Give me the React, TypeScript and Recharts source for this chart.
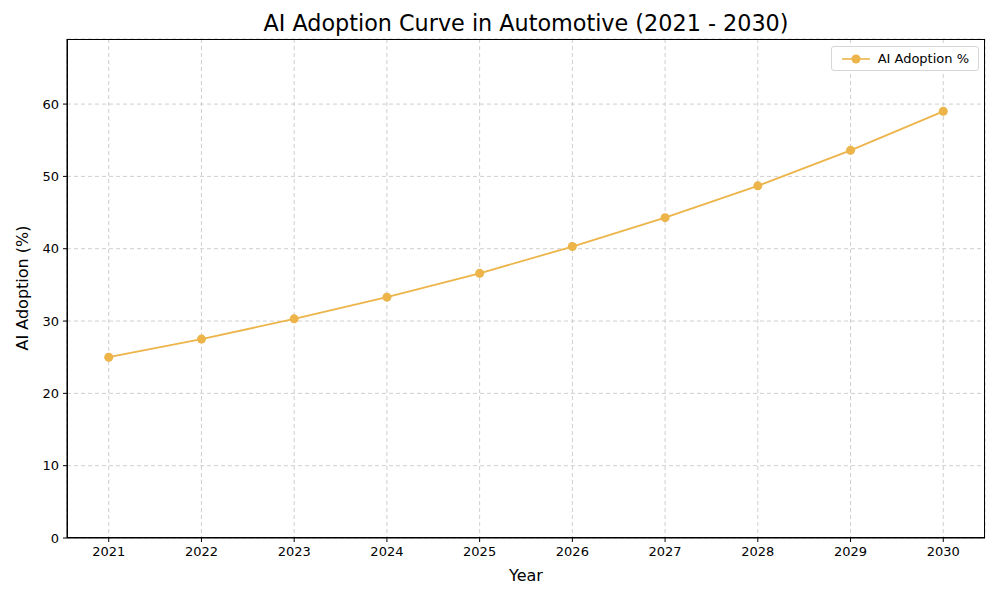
import { LineChart, Line, XAxis, YAxis, CartesianGrid } from "recharts"

const years = [2021, 2022, 2023, 2024, 2025, 2026, 2027, 2028, 2029, 2030]
const adoption = [25.0, 27.5, 30.3, 33.3, 36.6, 40.3, 44.3, 48.7, 53.6, 59.0]
const yTicks = [0, 10, 20, 30, 40, 50, 60]

const data = years.map((year, i) => ({ year, adoption: adoption[i] }))

const COLOR = "#ecb449"
const FONT = "DejaVu Sans, sans-serif"

// plot area box (matches chart margins below)
const PLOT = { left: 67, top: 39, width: 918, height: 499 }

function LegendBox() {
  return (
    <div
      style={{
        position: "absolute",
        top: 46,
        right: 21,
        display: "flex",
        alignItems: "center",
        border: "1px solid #d6d6d6",
        borderRadius: 3,
        background: "#fff",
        padding: "4px 9px 4px 10px",
        fontSize: 13,
        color: "#000",
      }}
    >
      <svg width={28} height={12} style={{ marginRight: 8 }}>
        <line x1={0} y1={6} x2={28} y2={6} stroke={COLOR} strokeWidth={1.6} />
        <circle cx={14} cy={6} r={4.5} fill={COLOR} />
      </svg>
      AI Adoption %
    </div>
  )
}

export default function App() {
  return (
    <div style={{ position: "absolute", left: 0, top: 0, width: 1000, height: 600, background: "#fff", fontFamily: FONT }}>
      <div style={{ position: "absolute", top: 10, left: 67, width: 918, textAlign: "center", fontSize: 22.3, color: "#000" }}>
        AI Adoption Curve in Automotive (2021 - 2030)
      </div>
      <div style={{ position: "absolute", top: 566, left: 67, width: 918, textAlign: "center", fontSize: 16, color: "#000" }}>
        Year
      </div>
      <div
        style={{
          position: "absolute",
          left: 22,
          top: 288,
          transform: "translate(-50%, -50%) rotate(-90deg)",
          fontSize: 16,
          whiteSpace: "nowrap",
          color: "#000",
        }}
      >
        AI Adoption (%)
      </div>
      <LineChart width={1000} height={600} data={data} margin={{ top: 39, right: 15, bottom: 32, left: 20 }}>
        <CartesianGrid stroke="#cfcfcf" strokeDasharray="4 3" />
        <XAxis
          dataKey="year"
          type="number"
          domain={[2020.55, 2030.45]}
          ticks={years}
          allowDataOverflow
          height={30}
          stroke="#000"
          tickSize={4}
          tick={{ fill: "#000", fontSize: 13, fontFamily: FONT }}
          tickMargin={5}
        />
        <YAxis
          type="number"
          domain={[0, 69]}
          ticks={yTicks}
          allowDataOverflow
          width={47}
          stroke="#000"
          tickSize={4}
          tick={{ fill: "#000", fontSize: 13, fontFamily: FONT }}
          tickMargin={4}
        />
        <Line
          type="linear"
          dataKey="adoption"
          stroke={COLOR}
          strokeWidth={1.8}
          dot={{ r: 4.5, fill: COLOR, stroke: COLOR, strokeWidth: 0 }}
          activeDot={false}
          isAnimationActive={false}
        />
      </LineChart>
      <div
        style={{
          position: "absolute",
          left: PLOT.left,
          top: PLOT.top,
          width: PLOT.width,
          height: PLOT.height,
          boxSizing: "border-box",
          border: "1px solid #000",
          pointerEvents: "none",
        }}
      />
      <LegendBox />
    </div>
  )
}
